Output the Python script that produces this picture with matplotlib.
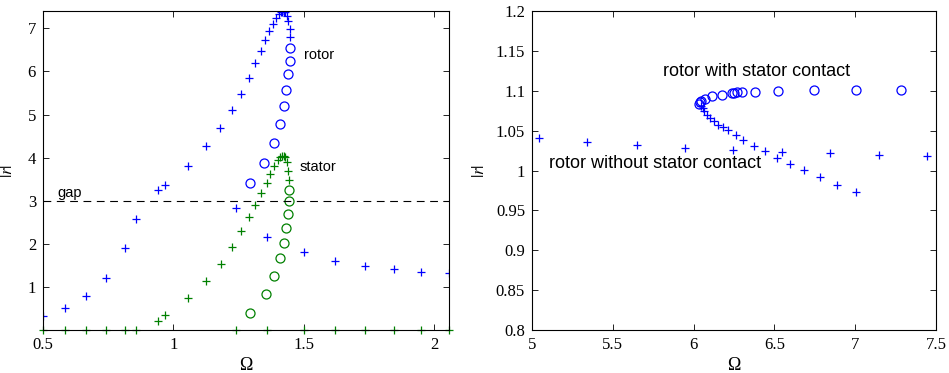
import matplotlib
matplotlib.use('Agg')
import matplotlib.pyplot as plt

plt.rcParams['mathtext.fontset'] = 'stix'

# left panel: rotor / stator amplitude vs speed
rotor_stable_x = [0.5, 0.583, 0.666, 0.743, 0.815, 0.855, 0.942, 0.967, 1.057, 1.126,
                  1.179, 1.224, 1.259, 1.288, 1.314, 1.335, 1.352, 1.367, 1.380, 1.394,
                  1.403, 1.411, 1.417, 1.422, 1.427, 1.437, 1.441, 1.445, 1.448]
rotor_stable_y = [0.324, 0.517, 0.787, 1.204, 1.898, 2.577, 3.24, 3.364, 3.796, 4.259,
                  4.691, 5.108, 5.486, 5.849, 6.188, 6.481, 6.72, 6.94, 7.10, 7.25,
                  7.33, 7.38, 7.39, 7.39, 7.38, 7.29, 7.16, 6.98, 6.79]
rotor_unstable_x = [1.448, 1.445, 1.441, 1.432, 1.422, 1.409, 1.384, 1.349, 1.294]
rotor_unstable_y = [6.535, 6.25, 5.94, 5.58, 5.19, 4.78, 4.34, 3.87, 3.40]
rotor_free_x = [1.238, 1.358, 1.499, 1.619, 1.736, 1.845, 1.950, 2.057]
rotor_free_y = [2.83, 2.15, 1.80, 1.605, 1.489, 1.412, 1.350, 1.312]

stator_zero_x = [0.5, 0.583, 0.666, 0.743, 0.815, 0.855, 1.238, 1.358, 1.499, 1.619,
                 1.736, 1.845, 1.950, 2.057]
stator_stable_x = [0.942, 0.967, 1.057, 1.124, 1.181, 1.224, 1.259, 1.288, 1.314, 1.335,
                   1.358, 1.371, 1.386, 1.399, 1.409, 1.416, 1.422, 1.427, 1.437, 1.441,
                   1.444]
stator_stable_y = [0.216, 0.347, 0.733, 1.14, 1.54, 1.93, 2.29, 2.62, 2.89, 3.18,
                   3.41, 3.61, 3.80, 3.94, 4.01, 4.04, 4.04, 4.01, 3.90, 3.70,
                   3.47]
stator_unstable_x = [1.444, 1.443, 1.440, 1.432, 1.422, 1.407, 1.386, 1.353, 1.294]
stator_unstable_y = [3.24, 2.99, 2.70, 2.37, 2.02, 1.66, 1.26, 0.83, 0.386]
gap = 3

# right panel: high speed branch
free_x = [5.043, 5.341, 5.647, 5.946, 6.246, 6.545, 6.845, 7.147, 7.446]
free_y = [1.0404, 1.0354, 1.0316, 1.0283, 1.0253, 1.0238, 1.0216, 1.0195, 1.0182]
fall_x = [6.045, 6.056, 6.064, 6.081, 6.101, 6.126, 6.153, 6.180, 6.215, 6.262,
          6.308, 6.374, 6.442, 6.514, 6.597, 6.686, 6.783, 6.886, 7.002]
fall_y = [1.0815, 1.0780, 1.0743, 1.0697, 1.0660, 1.0618, 1.0576, 1.0542, 1.0505, 1.0450,
          1.0387, 1.0304, 1.0241, 1.0157, 1.0086, 1.0010, 0.9918, 0.9822, 0.9734]
contact_x = [6.035, 6.039, 6.047, 6.070, 6.112, 6.174, 6.236, 6.250, 6.267, 6.300,
             6.380, 6.525, 6.742, 7.006, 7.285]
contact_y = [1.0836, 1.0857, 1.0878, 1.0903, 1.0932, 1.0953, 1.0970, 1.0975, 1.0980, 1.0982,
             1.0986, 1.0995, 1.1007, 1.1007, 1.1016]

serif = 'Liberation Serif'
sans = 'Liberation Sans'
blue = (0, 0, 1)
green = (0, 0.5, 0)
ms_p = 5.5
ms_o = 6.5

fig = plt.figure(figsize=(9.49, 3.73), dpi=100)
ax1 = fig.add_axes([0.0453, 0.1153, 0.428, 0.855])
ax2 = fig.add_axes([0.5606, 0.1153, 0.4257, 0.855])

pk = dict(linestyle='none', marker='+', markersize=ms_p, markeredgewidth=0.9)
ok = dict(linestyle='none', marker='o', markersize=ms_o, markerfacecolor='none', markeredgewidth=0.9)

ax1.plot(rotor_stable_x, rotor_stable_y, color=blue, **pk)
ax1.plot(rotor_unstable_x, rotor_unstable_y, color=blue, **ok)
ax1.plot(rotor_free_x, rotor_free_y, color=blue, **pk)
ax1.plot(stator_zero_x, [0] * len(stator_zero_x), color=green, clip_on=False, **pk)
ax1.plot(stator_stable_x, stator_stable_y, color=green, **pk)
ax1.plot(stator_unstable_x, stator_unstable_y, color=green, **ok)
ax1.axhline(gap, color='k', linestyle=(0, (7, 5)), linewidth=0.8)
ax1.text(0.554, 3.18, 'gap', family=sans, fontsize=10.5, va='center')
ax1.text(1.501, 6.38, 'rotor', family=sans, fontsize=10.5, va='center')
ax1.text(1.482, 3.78, 'stator', family=sans, fontsize=10.5, va='center')
ax1.set_xlim(0.5, 2.057)
ax1.set_ylim(0, 7.4)
ax1.set_xticks([0.5, 1, 1.5, 2])
ax1.set_xticklabels(['0.5', '1', '1.5', '2'])
ax1.set_yticks([1, 2, 3, 4, 5, 6, 7])

ax2.plot(free_x, free_y, color=blue, **pk)
ax2.plot(fall_x, fall_y, color=blue, **pk)
ax2.plot(contact_x, contact_y, color=blue, **ok)
ax2.text(5.812, 1.1246, 'rotor with stator contact', family=sans, fontsize=13, va='center')
ax2.text(5.105, 1.0094, 'rotor without stator contact', family=sans, fontsize=13, va='center')
ax2.set_xlim(5, 7.5)
ax2.set_ylim(0.8, 1.2)
ax2.set_xticks([5, 5.5, 6, 6.5, 7, 7.5])
ax2.set_xticklabels(['5', '5.5', '6', '6.5', '7', '7.5'])
ax2.set_yticks([0.8, 0.85, 0.9, 0.95, 1, 1.05, 1.1, 1.15, 1.2])
ax2.set_yticklabels(['0.8', '0.85', '0.9', '0.95', '1', '1.05', '1.1', '1.15', '1.2'])

for ax in (ax1, ax2):
    ax.tick_params(direction='in', top=True, right=True, length=4, width=0.6,
                   labelsize=12, pad=5)
    for lab in ax.get_xticklabels() + ax.get_yticklabels():
        lab.set_family(serif)
    for s in ax.spines.values():
        s.set_linewidth(0.8)
    ax.set_xlabel('Ω', family=serif, fontsize=13)
    ax.set_ylabel('$|r|$', fontsize=12, labelpad=2)
    ax.xaxis.set_label_coords(0.5, -0.085)

ax1.yaxis.set_label_coords(-0.066, 0.5)
ax2.yaxis.set_label_coords(-0.108, 0.5)

fig.savefig('out.png', dpi=100)
